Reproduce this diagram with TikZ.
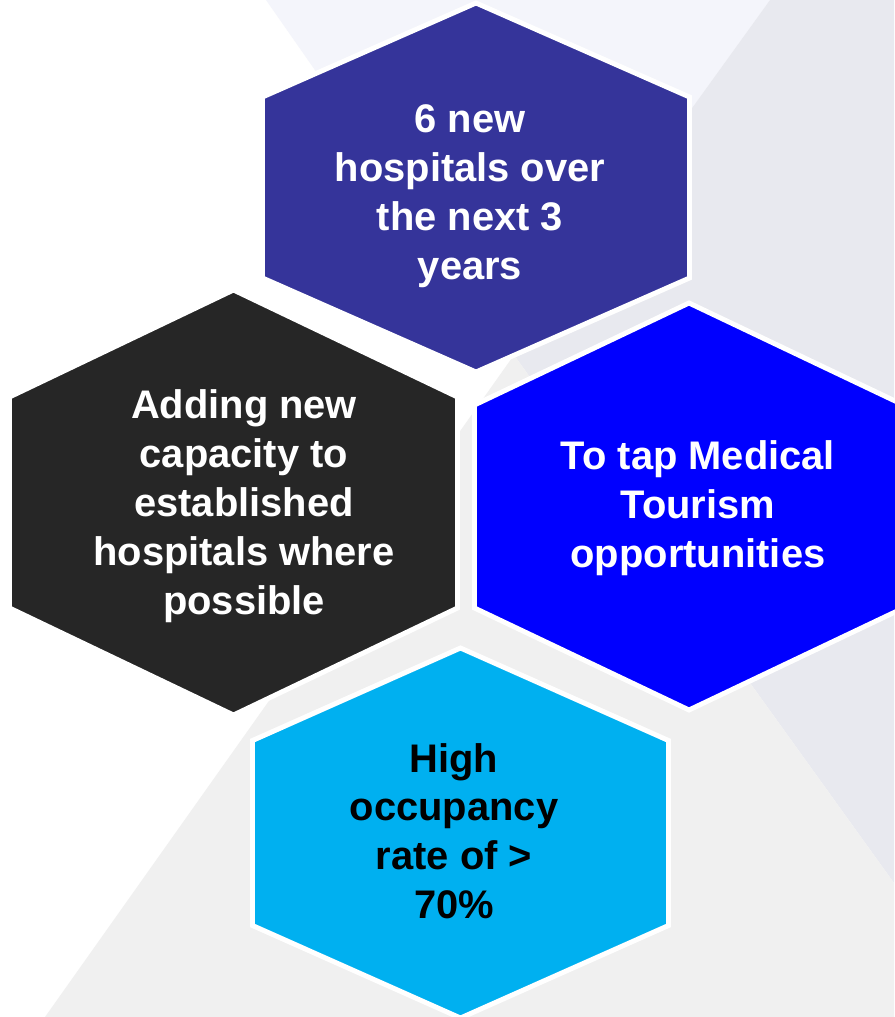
\documentclass[tikz,border=0pt]{standalone}
\usepackage{fontspec}
\setmainfont{Liberation Sans}
\usetikzlibrary{positioning}
\definecolor{hexpurple}{RGB}{53,52,154}
\definecolor{hexblack}{RGB}{38,38,38}
\definecolor{hexblue}{RGB}{0,0,255}
\definecolor{hexcyan}{RGB}{0,176,240}
\definecolor{bgtop}{RGB}{244,245,251}
\definecolor{bgright}{RGB}{232,233,239}
\definecolor{bgbottom}{RGB}{240,240,240}

% hexagon outline: centre x, centre y, half width, half height, corner offset
\newcommand{\hexpath}[5]{(#1,#2-#4) -- (#1+#3,#2-#5) -- (#1+#3,#2+#5) -- (#1,#2+#4) -- (#1-#3,#2+#5) -- (#1-#3,#2-#5) -- cycle}

\begin{document}
\begin{tikzpicture}[
    x=0.02cm, y=-0.02cm,
    hexa/.style={draw=white, line width=2.8pt, line join=miter},
    label/.style={font=\bfseries\fontsize{22.7}{27.8}\selectfont, align=center, text=white}
]
\useasboundingbox (0,0) rectangle (894,1017);

% Background
\fill[white] (0,0) rectangle (894,1017);
\fill[bgtop] (266,0) -- (770,0) -- (514,355) -- cycle;
\fill[bgright] (770,0) -- (894,0) -- (894,883) -- (514,355) -- cycle;
\fill[bgbottom] (514,355) -- (894,883) -- (894,1017) -- (45,1017) -- cycle;

% Hexagons
\fill[hexa, fill=hexpurple] \hexpath{476}{187.5}{213.5}{184.5}{90.5};
\fill[hexa, fill=hexblack] \hexpath{233.5}{502.5}{224}{212.5}{105.5};
\fill[hexa, fill=hexblue] \hexpath{689}{506.5}{214.5}{203.5}{101.5};
\fill[hexa, fill=hexcyan] \hexpath{460.5}{833}{208}{185}{92.5};

% Texts
\node[label] (newhosp) at (470,196) {6 new\\hospitals over\\the next 3\\years};
\node[label] (capacity) at (244,506) {Adding new\\capacity to\\established\\hospitals where\\possible};
\node[label] (tourism) at (698,508) {To tap Medical\\Tourism\\opportunities};
\node[label, text=black] (occupancy) at (454,831) {High\\occupancy\\rate of >\\70\%};

\end{tikzpicture}
\end{document}
